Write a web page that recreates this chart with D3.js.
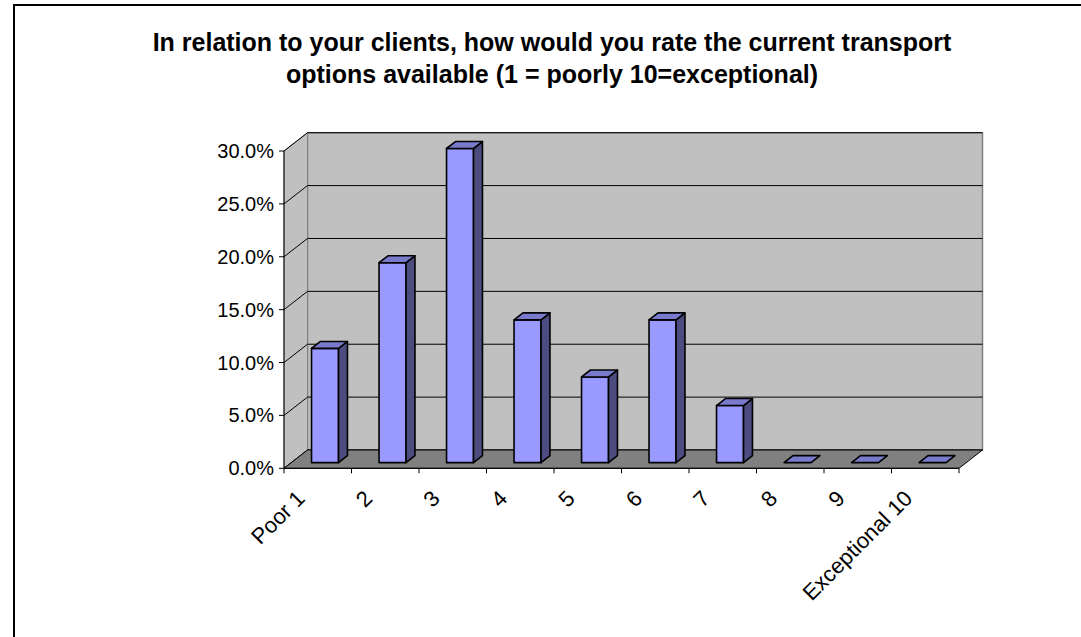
<!DOCTYPE html>
<html>
<head>
<meta charset="utf-8">
<script src="https://cdn.jsdelivr.net/npm/d3@7"></script>
<style>
  html, body { margin: 0; padding: 0; background: #fff; }
  svg { display: block; }
  text { font-family: "Liberation Sans", Arial, sans-serif; fill: #000; }
</style>
</head>
<body>
<svg id="chart" width="1081" height="637"></svg>
<script>
// Survey responses: share of respondents choosing each rating
const categories = ["Poor 1", "2", "3", "4", "5", "6", "7", "8", "9", "Exceptional 10"];
const shares = [0.108, 0.189, 0.297, 0.135, 0.081, 0.135, 0.054, 0, 0, 0];
const yTicks = [0, 0.05, 0.10, 0.15, 0.20, 0.25, 0.30];
const titleLines = [
  "In relation to your clients, how would you rate the current transport",
  "options available (1 = poorly 10=exceptional)"
];

const svg = d3.select("#chart");

// Front face of the plot box and the depth offset of the 3-D walls
const front = { left: 284, right: 959, bottom: 468.3, top: 151 };
const depth = { dx: 23.5, dy: -18.3 };
const barFront = 0.31, barBack = 0.69;   // bar depth as fractions of the box depth
const barWidthFrac = 0.4;

const x = d3.scaleBand().domain(categories).range([front.left, front.right]).padding(0);
const y = d3.scaleLinear().domain([0, 0.30]).range([front.bottom, front.top]);

const colors = {
  wall: "#C0C0C0", wallEdge: "#808080", floor: "#808080",
  face: "#9999FF", top: "#7A7ACC", side: "#4C4C80"
};

// Outer frame
svg.append("line").attr("x1", 14).attr("y1", 4).attr("x2", 14).attr("y2", 637)
  .attr("stroke", "#000").attr("stroke-width", 2);
svg.append("line").attr("x1", 13).attr("y1", 5).attr("x2", 1081).attr("y2", 5)
  .attr("stroke", "#000").attr("stroke-width", 2);

// Title
const titleX = 552;
const title = svg.append("text")
  .attr("x", titleX).attr("text-anchor", "middle")
  .style("font-weight", "bold").style("font-size", "25px");
titleLines.forEach((t, i) => {
  title.append("tspan").attr("x", titleX).attr("y", 51 + i * 32).text(t);
});

const pt = (px, py, f) => [px + depth.dx * f, py + depth.dy * f];
const poly = pts => "M" + pts.map(p => p.join(",")).join("L") + "Z";

const yMaxPix = y(0.30);
// Back wall
svg.append("path")
  .attr("d", poly([pt(front.left, yMaxPix, 1), pt(front.right, yMaxPix, 1),
                   pt(front.right, front.bottom, 1), pt(front.left, front.bottom, 1)]))
  .attr("fill", colors.wall).attr("stroke", colors.wallEdge).attr("stroke-width", 1.5);
// Side wall
svg.append("path")
  .attr("d", poly([[front.left, yMaxPix], pt(front.left, yMaxPix, 1),
                   pt(front.left, front.bottom, 1), [front.left, front.bottom]]))
  .attr("fill", colors.wall).attr("stroke", colors.wallEdge).attr("stroke-width", 1);

// Gridlines on side wall and back wall
yTicks.forEach(v => {
  const yy = y(v);
  const b = pt(front.left, yy, 1);
  svg.append("path")
    .attr("d", `M${front.left},${yy}L${b[0]},${b[1]}L${front.right + depth.dx},${b[1]}`)
    .attr("fill", "none").attr("stroke", "#000").attr("stroke-width", 1);
});

// Floor
svg.append("path")
  .attr("d", poly([[front.left, front.bottom], [front.right, front.bottom],
                   pt(front.right, front.bottom, 1), pt(front.left, front.bottom, 1)]))
  .attr("fill", colors.floor).attr("stroke", "#000").attr("stroke-width", 1);

// Bars (front face, top, right side)
const bars = svg.append("g");
categories.forEach((c, i) => {
  const v = shares[i];
  const w = x.bandwidth() * barWidthFrac;
  const x0 = x(c) + (x.bandwidth() - w) / 2, x1 = x0 + w;
  const yb = y(0), yt = y(v);
  const fl = pt(x0, yb, barFront), fr = pt(x1, yb, barFront);
  const tl = pt(x0, yt, barFront), tr = pt(x1, yt, barFront);
  const btl = pt(x0, yt, barBack), btr = pt(x1, yt, barBack), bbr = pt(x1, yb, barBack);
  const g = bars.append("g").attr("stroke", "#000").attr("stroke-width", 1.6)
    .attr("stroke-linejoin", "round");
  if (v > 0) {
    g.append("path").attr("d", poly([fl, fr, tr, tl])).attr("fill", colors.face);
    g.append("path").attr("d", poly([fr, bbr, btr, tr])).attr("fill", colors.side);
  }
  g.append("path").attr("d", poly([tl, tr, btr, btl])).attr("fill", colors.top);
});

// Y axis
svg.append("line").attr("x1", front.left).attr("x2", front.left)
  .attr("y1", y(0.30)).attr("y2", y(0)).attr("stroke", "#000");
const yAxis = svg.append("g");
yTicks.forEach(v => {
  yAxis.append("line").attr("x1", front.left - 5).attr("x2", front.left)
    .attr("y1", y(v)).attr("y2", y(v)).attr("stroke", "#000");
  yAxis.append("text").attr("x", front.left - 10).attr("y", y(v)).attr("dy", "0.35em")
    .attr("text-anchor", "end").style("font-size", "20px")
    .text(d3.format(".1%")(v));
});

// X axis
svg.append("line").attr("x1", front.left).attr("x2", front.right)
  .attr("y1", front.bottom).attr("y2", front.bottom).attr("stroke", "#000");
d3.range(categories.length + 1).forEach(i => {
  const xx = front.left + i * x.step();
  svg.append("line").attr("x1", xx).attr("x2", xx)
    .attr("y1", front.bottom).attr("y2", front.bottom + 5).attr("stroke", "#000");
});
categories.forEach(c => {
  const cx = x(c) + x.bandwidth() / 2;
  svg.append("text")
    .attr("transform", `translate(${cx - 17},${front.bottom + 26}) rotate(-45)`)
    .attr("text-anchor", "end").attr("dy", "0.35em")
    .style("font-size", "22px").text(c);
});
</script>
</body>
</html>
